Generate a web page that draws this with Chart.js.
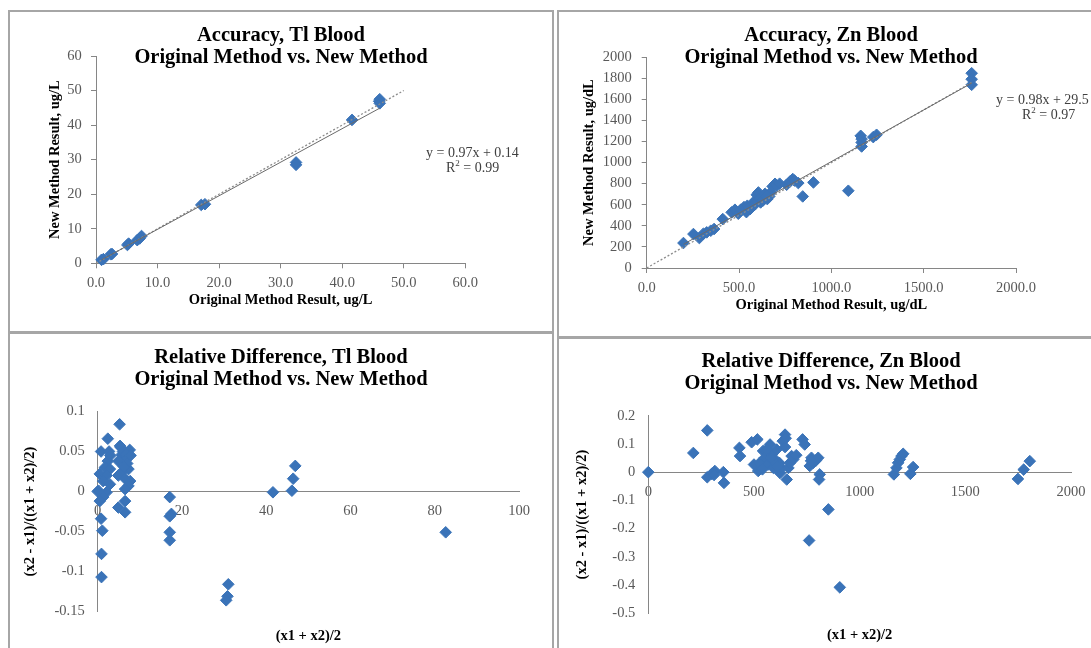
<!DOCTYPE html>
<html>
<head>
<meta charset="utf-8">
<script src="https://cdn.jsdelivr.net/npm/chart.js@4.4.1/dist/chart.umd.min.js"></script>
<style>
  body { margin: 0; background: #fff; width: 1091px; height: 648px; overflow: hidden; position: relative; font-family: "Liberation Serif", serif; }
  .panel { position: absolute; border: 2px solid #a6a6a6; background: #fff; }
  .panel canvas { display: block; }
  .eq { position: absolute; font-size: 14px; line-height: 15px; color: #404040; white-space: nowrap; }
  .eq sup { font-size: 9px; line-height: 0; }
</style>
</head>
<body>
<div class="panel" style="left:8px;top:10px;"><canvas id="tlAcc" width="542" height="319"></canvas></div>
<div class="panel" style="left:557px;top:10px;"><canvas id="znAcc" width="544" height="324"></canvas></div>
<div class="panel" style="left:8px;top:332px;"><canvas id="tlRel" width="542" height="316"></canvas></div>
<div class="panel" style="left:557px;top:337px;"><canvas id="znRel" width="544" height="309"></canvas></div>
<div class="eq" style="left:426px;top:145px;">y = 0.97x + 0.14<br><span style="margin-left:20px">R<sup>2</sup> = 0.99</span></div>
<div class="eq" style="left:996px;top:92px;">y = 0.98x + 29.5<br><span style="margin-left:26px">R<sup>2</sup> = 0.97</span></div>
<script>
// Tl blood, original vs new method (ug/L)
const tlOrig = [0.9, 1.2, 2.4, 2.6, 5.1, 5.3, 6.7, 7.1, 7.4, 17.1, 17.7, 32.5, 32.5, 41.6, 46.0, 46.1, 46.1];
const tlNew = [1.0, 1.2, 2.6, 2.7, 5.3, 5.7, 6.7, 7.2, 7.9, 16.9, 17.1, 28.5, 29.2, 41.5, 46.9, 47.5, 46.3];
const tlFitX = [0.9, 46.1];
const tlFitY = [1.0, 44.9];
const tlIdX = [0, 50];
const tlIdY = [0, 50];

// Zn blood, original vs new method (ug/dL)
const znOrig = [199, 253, 285, 307, 325, 347, 365, 412, 460, 478, 496, 509, 527, 545, 560, 574, 587, 596, 605, 610,
  617, 628, 641, 653, 664, 671, 682, 695, 704, 758, 776, 791, 821, 845, 903, 1092, 1159, 1164, 1164, 1164,
  1227, 1245, 1760, 1760, 1760, 540, 555, 585, 630, 650, 720, 800];
const znNew = [237, 322, 284, 325, 338, 354, 370, 464, 528, 553, 515, 553, 578, 591, 559, 610, 641, 695, 717, 654,
  622, 679, 705, 654, 679, 717, 774, 799, 780, 790, 821, 844, 806, 679, 812, 733, 1254, 1223, 1191, 1153,
  1242, 1264, 1848, 1791, 1738, 530, 575, 600, 640, 680, 800, 830];
const znFitX = [199, 1760];
const znFitY = [225, 1754];
const znIdX = [0, 1760];
const znIdY = [0, 1760];

// Tl relative difference
const tlMean = [5.2, 2.4, 0.8, 2.7, 5.3, 7.6, 5.7, 6.9, 2.4, 4.9, 1.7, 2.9, 7.3, 5.7, 0.5, 2.1, 4.9, 6.5, 7.7, 1.3,
  2.9, 7.3, 6.5, 0.2, 2.1, 1.3, 0.5, 6.5, 4.9, 6.5, 0.8, 1.1, 0.9, 0.9, 6.0, 7.0, 6.2, 5.5, 7.8, 3.0,
  17.1, 17.5, 17.1, 17.1, 17.1, 31.0, 30.8, 30.5, 41.6, 46.1, 46.4, 46.9, 82.6, 0];
const tlRel = [0.084, 0.066, 0.050, 0.050, 0.057, 0.052, 0.046, 0.042, 0.038, 0.038, 0.030, 0.028, 0.028, 0.024, 0.022, 0.020, 0.020, 0.016, 0.013, 0.013,
  0.009, 0.007, 0.003, 0.001, -0.001, -0.007, -0.012, -0.012, -0.020, -0.026, -0.034, -0.049, -0.078, -0.107, 0.050, 0.035, 0.031, 0.055, 0.045, 0.045,
  -0.007, -0.028, -0.031, -0.051, -0.061, -0.116, -0.131, -0.136, -0.001, 0.001, 0.016, 0.032, -0.051, 0];

// Zn relative difference
const znMean = [0, 213, 279, 279, 300, 315, 311, 355, 358, 431, 434, 489, 516, 500, 520, 527, 543, 551, 567, 576,
  584, 592, 600, 607, 620, 623, 631, 636, 647, 647, 655, 663, 670, 678, 686, 730, 740, 764, 772, 780,
  793, 804, 811, 808, 852, 761, 906, 1162, 1174, 1182, 1190, 1198, 1206, 1240, 1253, 1749, 1776, 1805,
  560, 590, 610, 650, 700, 770, 540, 580];
const znRel = [0, 0.068, 0.148, -0.018, -0.006, 0.004, -0.010, 0.000, -0.038, 0.086, 0.057, 0.106, 0.116, 0.027, 0.004, 0.033, 0.075, 0.051, 0.027, 0.098,
  0.063, 0.015, 0.045, 0.080, 0.033, -0.003, 0.015, 0.110, 0.133, 0.089, -0.026, 0.015, 0.033, 0.057, 0.045, 0.116, 0.098, 0.022, 0.051, 0.033,
  0.041, 0.051, -0.008, -0.026, -0.132, -0.242, -0.408, -0.008, 0.015, 0.033, 0.045, 0.057, 0.065, -0.006, 0.018, -0.024, 0.009, 0.039,
  0.080, 0.040, 0.020, 0.120, 0.060, 0.040, 0.010, 0.050];

const FONT = "'Liberation Serif', serif";
const BLUE = "#3A73B8";
const AXIS = "#868686";
const TICK = "#595959";
const tickFont = { family: FONT, size: 14.5 };
const axisFont = { family: FONT, size: 14.5, weight: "bold", lineHeight: 1.2 };

const pts = (xs, ys) => xs.map((x, i) => ({ x: x, y: ys[i] }));

function markers(xs, ys) {
  return {
    data: pts(xs, ys),
    pointStyle: "rectRot",
    pointRadius: 5.8,
    backgroundColor: BLUE,
    borderColor: BLUE,
    borderWidth: 1,
    clip: false,
    xAxisID: "x",
    yAxisID: "y",
  };
}

function fitLine(xs, ys, dotted) {
  return {
    type: "line",
    data: pts(xs, ys),
    borderColor: dotted ? "#8c8c8c" : "#6a6a6a",
    borderWidth: dotted ? 1.3 : 1,
    borderDash: dotted ? [2, 2] : [],
    pointRadius: 0,
    fill: false,
    xAxisID: "x",
    yAxisID: "y",
  };
}

// empty axis on the right, only keeps room so the title stays centred on the panel
function rightGap(w) {
  return {
    type: "linear", position: "right", axis: "y",
    ticks: { display: false },
    grid: { drawOnChartArea: false, drawTicks: false },
    border: { display: false },
    afterFit: (s) => { s.width = w; },
  };
}

function makeChart(id, title, titlePad, datasets, scales) {
  return new Chart(document.getElementById(id), {
    type: "scatter",
    data: { datasets: datasets },
    options: {
      responsive: false,
      animation: false,
      devicePixelRatio: 1,
      layout: { padding: 0 },
      plugins: {
        legend: { display: false },
        tooltip: { enabled: false },
        title: {
          display: true,
          text: title,
          color: "#000",
          font: { family: FONT, size: 20.5, weight: "bold", lineHeight: "22px" },
          padding: titlePad,
        },
      },
      scales: scales,
    },
  });
}

// accuracy panels: axes at the edges with outside tick marks
function accScales(xMax, xStep, yMax, yStep, xTitle, yTitle, xH, yW, yTitlePad, yTickPad, padRight) {
  return {
    x: {
      type: "linear", position: "bottom", min: 0, max: xMax,
      ticks: { stepSize: xStep, padding: 6, color: TICK, font: tickFont, maxRotation: 0, callback: (v) => v.toFixed(1) },
      grid: { drawOnChartArea: false, tickLength: 5, color: AXIS },
      border: { color: AXIS },
      title: { display: true, text: xTitle, color: "#000", font: axisFont, padding: { top: 0, bottom: 22.3 } },
      afterFit: (s) => { s.height = xH; },
    },
    y: {
      type: "linear", position: "left", min: 0, max: yMax,
      ticks: { stepSize: yStep, padding: yTickPad, color: TICK, font: tickFont, callback: (v) => String(v) },
      grid: { drawOnChartArea: false, tickLength: 5, color: AXIS },
      border: { color: AXIS },
      title: { display: true, text: yTitle, color: "#000", font: axisFont, padding: { top: yTitlePad, bottom: 0 } },
      afterFit: (s) => { s.width = yW; },
    },
    yr: rightGap(padRight),
  };
}

// relative difference panels: x axis crosses at y = 0
function relScales(xMax, xStep, yMin, yMax, yStep, yTitle, xTitleH, xTitlePad, yW, yTitlePad, padRight) {
  return {
    x: {
      type: "linear", position: { y: 0 }, min: 0, max: xMax,
      ticks: { stepSize: xStep, padding: 11, color: TICK, font: tickFont, maxRotation: 0, callback: (v) => String(v) },
      grid: { drawOnChartArea: false, drawTicks: false },
      border: { color: AXIS },
    },
    xt: {
      type: "linear", position: "bottom", axis: "x",
      ticks: { display: false },
      grid: { drawOnChartArea: false, drawTicks: false },
      border: { display: false },
      title: { display: true, text: "(x1 + x2)/2", color: "#000", font: axisFont, padding: { top: 0, bottom: xTitlePad } },
      afterFit: (s) => { s.height = xTitleH; },
    },
    y: {
      type: "linear", position: "left", min: yMin, max: yMax,
      ticks: { stepSize: yStep, padding: 13, color: TICK, font: tickFont, callback: (v) => String(+v.toFixed(2)) },
      grid: { drawOnChartArea: false, drawTicks: false },
      border: { color: AXIS },
      title: { display: true, text: yTitle, color: "#000", font: axisFont, padding: { top: yTitlePad, bottom: 0 } },
      afterFit: (s) => { s.width = yW; },
    },
    yr: rightGap(padRight),
  };
}

makeChart("tlAcc", ["Accuracy, Tl Blood", "Original Method vs. New Method"],
  { top: 12.5, bottom: -12.5 },
  [fitLine(tlFitX, tlFitY, false), fitLine(tlIdX, tlIdY, true), markers(tlOrig, tlNew)],
  accScales(60, 10, 60, 10, "Original Method Result, ug/L", "New Method Result, ug/L", 67.7, 86, 36.3, 9.3, 86.7));

makeChart("znAcc", ["Accuracy, Zn Blood", "Original Method vs. New Method"],
  { top: 12.5, bottom: -11.3 },
  [fitLine(znFitX, znFitY, false), fitLine(znIdX, znIdY, true), markers(znOrig, znNew)],
  accScales(2000, 500, 2000, 200, "Original Method Result, ug/dL", "New Method Result, ug/dL", 68, 87.7, 21.3, 10, 87));

makeChart("tlRel", ["Relative Difference, Tl Blood", "Original Method vs. New Method"],
  { top: 12.5, bottom: 21 },
  [markers(tlMean, tlRel)],
  relScales(100, 20, -0.15, 0.1, 0.05, "(x2 - x1)/((x1 + x2)/2)", 38.5, 5.3, 87.7, 11.3, 33));

makeChart("znRel", ["Relative Difference, Zn Blood", "Original Method vs. New Method"],
  { top: 12, bottom: 20.7 },
  [markers(znMean, znRel)],
  relScales(2000, 500, -0.5, 0.2, 0.1, "(x2 - x1)/((x1 + x2)/2)", 34.7, 4.3, 89.3, 14.3, 32));
</script>
</body>
</html>
